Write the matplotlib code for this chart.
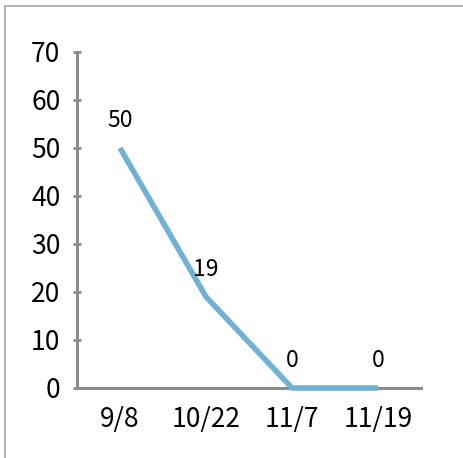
import matplotlib.pyplot as plt
from matplotlib.patches import Rectangle

plt.rcParams['font.family'] = ['Noto Sans CJK KR', 'DejaVu Sans']

dates = ['9/8', '10/22', '11/7', '11/19']
counts = [50, 19, 0, 0]
y_ticks = [0, 10, 20, 30, 40, 50, 60, 70]

axis_grey = '#8c8c8c'
line_blue = '#71b1d3'

fig = plt.figure(figsize=(4.64, 4.58), dpi=100)
ax = fig.add_axes([77/464, 70/458, 344/464, 336/458])

# outer chart frame
fig.patches.append(Rectangle((5/464, -0.05), 1.2, (458-6)/458 + 0.05,
                             transform=fig.transFigure, fill=False,
                             edgecolor='#a6a6a6', linewidth=1.2))

x = list(range(len(dates)))
ax.plot(x, counts, color=line_blue, linewidth=4, solid_capstyle='butt',
        zorder=3, clip_on=False)

for xi, v in zip(x, counts):
    ax.annotate(str(v), (xi, v), xytext=(0, 20), textcoords='offset points',
                ha='center', va='center', fontsize=16.5)

ax.set_xlim(-0.5, len(dates) - 0.5)
ax.set_ylim(0, 70)
ax.set_xticks(x)
ax.set_xticklabels(dates)
ax.set_yticks(y_ticks)

for s in ['top', 'right']:
    ax.spines[s].set_visible(False)
for s in ['left', 'bottom']:
    ax.spines[s].set_color(axis_grey)
    ax.spines[s].set_linewidth(2.2)

ax.tick_params(axis='y', direction='inout', length=6, width=2, color=axis_grey,
               labelsize=19, pad=9)
ax.tick_params(axis='x', length=0, labelsize=19, pad=13)

fig.savefig('out.png', dpi=100)
